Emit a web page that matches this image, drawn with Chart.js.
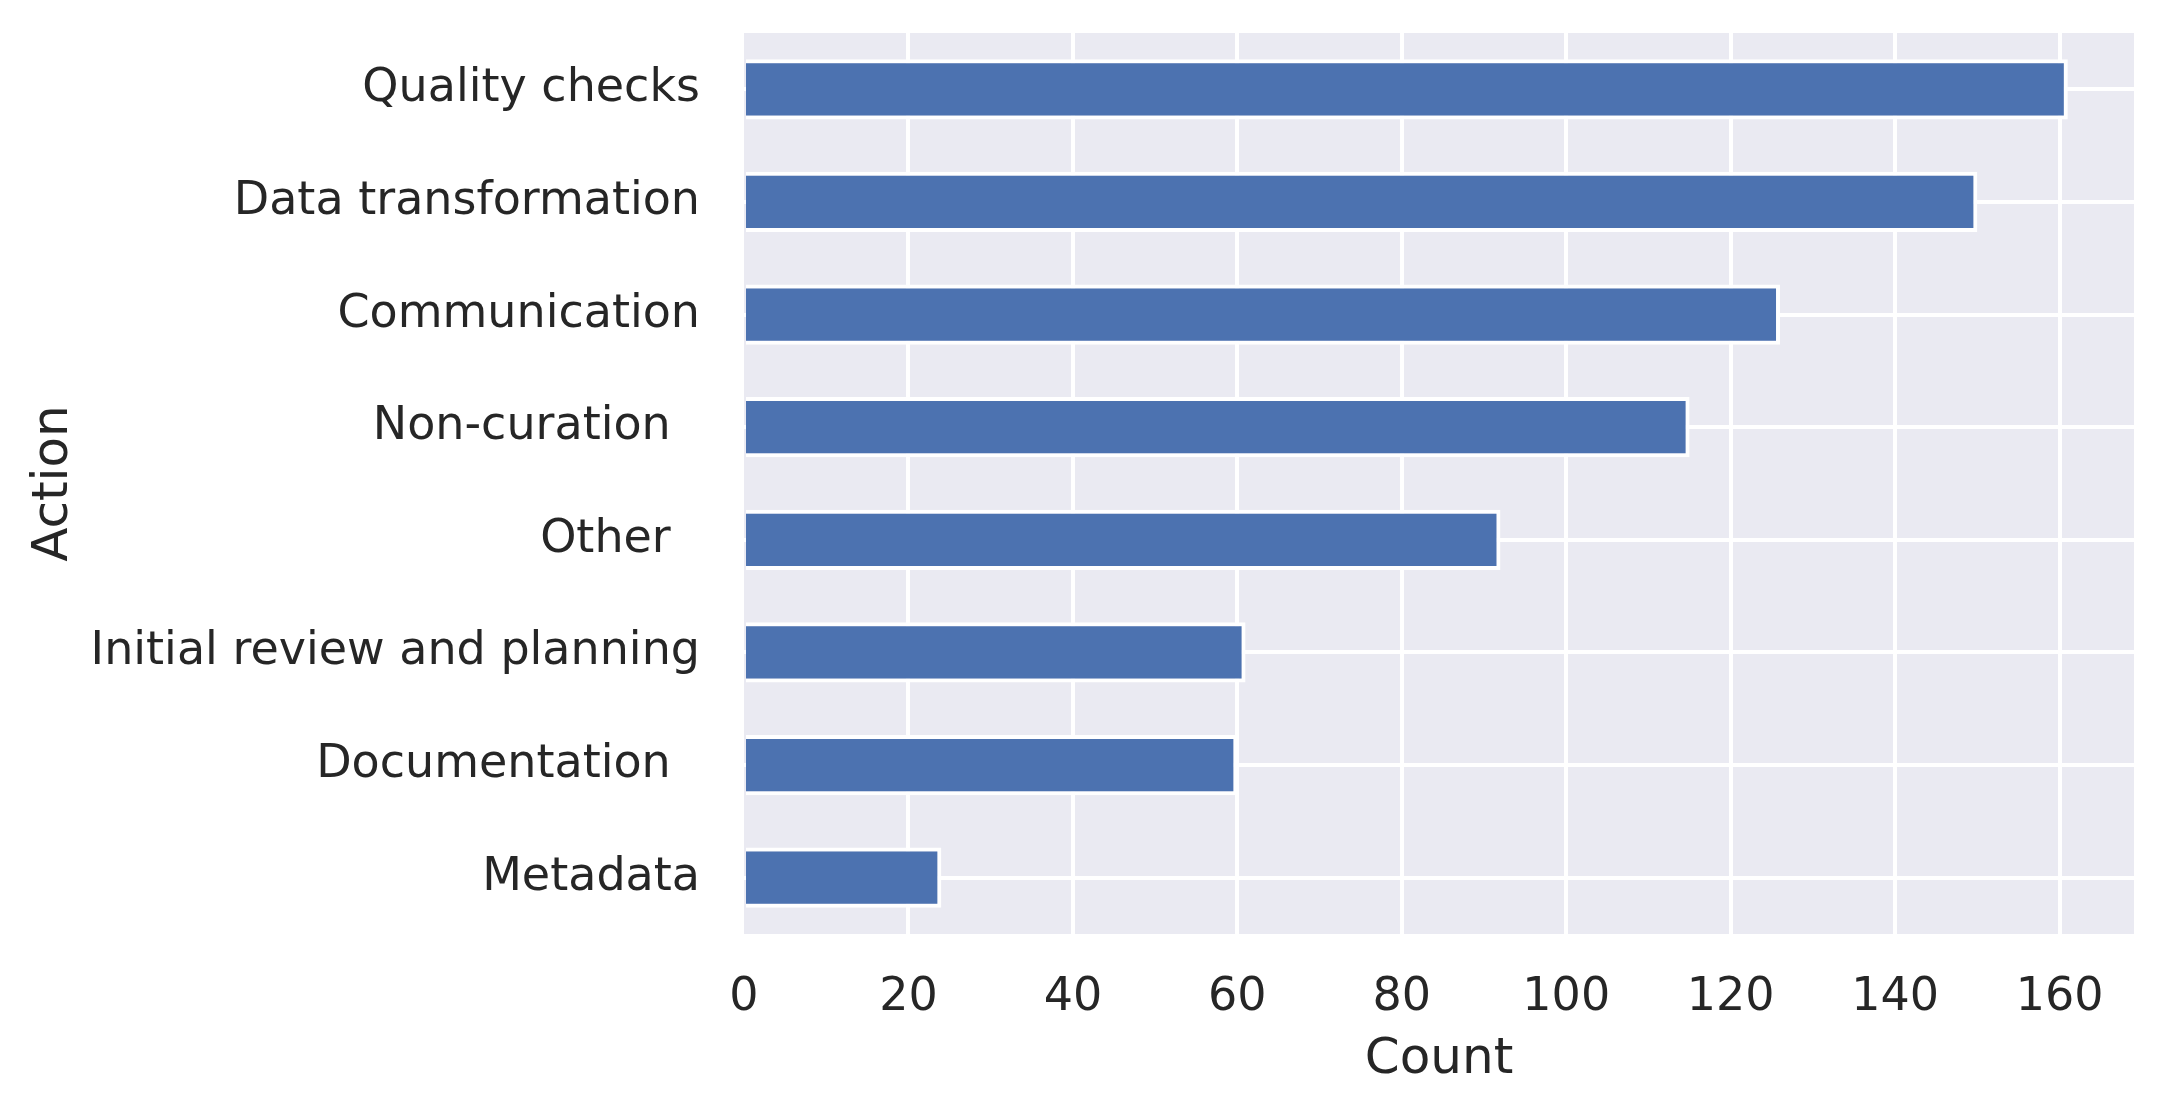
<!DOCTYPE html>
<html>
<head>
<meta charset="utf-8">
<script src="https://cdn.jsdelivr.net/npm/chart.js@4/dist/chart.umd.min.js"></script>
<style>
  html, body { margin: 0; padding: 0; background: #ffffff; }
  canvas { display: block; }
</style>
</head>
<body>
<canvas id="canvas" width="2166" height="1115"></canvas>
<script>
const actions = [
  "Quality checks",
  "Data transformation",
  "Communication",
  "Non-curation  ",
  "Other  ",
  "Initial review and planning",
  "Documentation  ",
  "Metadata",
];
const counts = [161, 150, 126, 115, 92, 61, 60, 24];
const xTicks = [0, 20, 40, 60, 80, 100, 120, 140, 160];

const barColor = "#4c72b0";
const plotBg = "#eaeaf2";
const textColor = "#262626";

// axis upper limit like matplotlib's 5% margin
const xMax = Math.max(...counts) * 1.05;

const plotBackground = {
  id: "plotBackground",
  beforeDraw(chart) {
    const { ctx, chartArea } = chart;
    ctx.save();
    ctx.fillStyle = plotBg;
    ctx.fillRect(chartArea.left, chartArea.top, chartArea.width, chartArea.height);
    ctx.restore();
  },
};

Chart.defaults.font.family = "'DejaVu Sans', sans-serif";
Chart.defaults.color = textColor;

new Chart(document.getElementById("canvas"), {
  type: "bar",
  data: {
    labels: actions,
    datasets: [
      {
        data: counts,
        backgroundColor: barColor,
        borderColor: "#ffffff",
        borderWidth: 4,
        borderSkipped: "start",
        barPercentage: 0.535,
        categoryPercentage: 1.0,
      },
    ],
  },
  options: {
    indexAxis: "y",
    responsive: false,
    animation: false,
    devicePixelRatio: 1,
    layout: { padding: { top: 33, right: 32, bottom: 0, left: 0 } },
    plugins: {
      legend: { display: false },
      tooltip: { enabled: false },
    },
    scales: {
      x: {
        type: "linear",
        min: 0,
        max: xMax,
        afterFit: (scale) => {
          scale.height = 181;
          scale.paddingLeft = 0;
          scale.paddingRight = 0;
        },
        afterBuildTicks: (scale) => {
          scale.ticks = xTicks.map((v) => ({ value: v }));
        },
        border: { display: false },
        grid: {
          color: (c) => (c.tick && c.tick.value === 0 ? "rgba(0,0,0,0)" : "#ffffff"),
          lineWidth: 4,
          drawTicks: false,
        },
        ticks: {
          font: { size: 46 },
          color: textColor,
          padding: 36,
          maxRotation: 0,
          autoSkip: false,
        },
        title: {
          display: true,
          text: "Count",
          font: { size: 50 },
          color: textColor,
          padding: { top: 0, bottom: 25 },
        },
      },
      y: {
        type: "category",
        afterFit: (scale) => {
          scale.width = 744;
          scale.paddingTop = 0;
          scale.paddingBottom = 0;
        },
        border: { display: false },
        grid: {
          color: "#ffffff",
          lineWidth: 4,
          offset: false,
          drawTicks: false,
        },
        ticks: {
          font: { size: 46 },
          color: textColor,
          padding: 44,
          autoSkip: false,
        },
        title: {
          display: true,
          text: "Action",
          font: { size: 50 },
          color: textColor,
          padding: { top: 24, bottom: 0 },
        },
      },
    },
  },
  plugins: [plotBackground],
});
</script>
</body>
</html>
